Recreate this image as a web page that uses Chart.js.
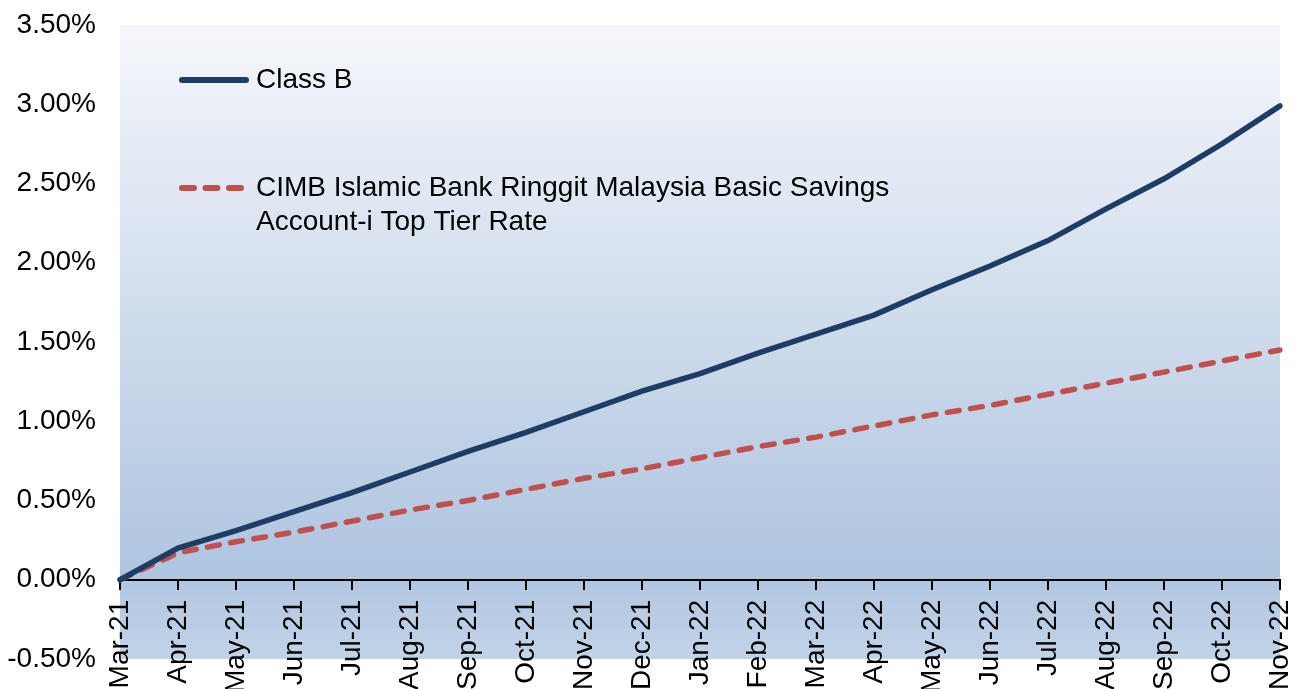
<!DOCTYPE html>
<html>
<head>
<meta charset="utf-8">
<script src="https://cdn.jsdelivr.net/npm/chart.js@4"></script>
<style>
  html, body { margin: 0; padding: 0; background: #fff; }
  #wrap { width: 1312px; height: 689px; }
</style>
</head>
<body>
<div id="wrap"><canvas id="chart" width="1312" height="689"></canvas></div>
<script>
const months = ['Mar-21','Apr-21','May-21','Jun-21','Jul-21','Aug-21','Sep-21','Oct-21','Nov-21','Dec-21',
  'Jan-22','Feb-22','Mar-22','Apr-22','May-22','Jun-22','Jul-22','Aug-22','Sep-22','Oct-22','Nov-22']
const classB = [0, 0.20, 0.31, 0.43, 0.55, 0.68, 0.81, 0.93, 1.06, 1.19,
  1.30, 1.43, 1.55, 1.67, 1.83, 1.98, 2.14, 2.34, 2.53, 2.75, 2.99]
const cimbRate = [0, 0.17, 0.24, 0.30, 0.37, 0.44, 0.50, 0.57, 0.64, 0.70,
  0.77, 0.84, 0.90, 0.97, 1.04, 1.10, 1.17, 1.24, 1.31, 1.38, 1.45]
const legendLabels = [['Class B'], ['CIMB Islamic Bank Ringgit Malaysia Basic Savings', 'Account-i Top Tier Rate']]

const FONT = 'Liberation Sans, Arial, sans-serif'
const navy = '#1f3c64'
const red = '#c0504d'

// fond dégradé de la zone du graphique
const bgPlugin = {
  id: 'bg',
  beforeDraw(chart) {
    const {ctx, chartArea: a} = chart
    const g = ctx.createLinearGradient(0, a.top, 0, a.bottom)
    g.addColorStop(0, '#f5f7fb')
    g.addColorStop(0.86, '#afc5e0')
    g.addColorStop(1, '#c2d3e8')
    ctx.save()
    ctx.fillStyle = g
    ctx.fillRect(a.left, a.top, a.right - a.left, a.bottom - a.top)
    ctx.restore()
  }
}

// légende dessinée dans la zone du graphique
const legendPlugin = {
  id: 'inlineLegend',
  afterDraw(chart) {
    const {ctx} = chart
    const rows = [{y: 80}, {y: 188}]
    ctx.save()
    ctx.font = '28px ' + FONT
    ctx.fillStyle = '#000'
    ctx.textBaseline = 'middle'
    rows.forEach((r, i) => {
      const ds = chart.data.datasets[i]
      ctx.strokeStyle = ds.borderColor
      ctx.lineWidth = 6
      ctx.lineCap = 'round'
      ctx.setLineDash(ds.borderDash || [])
      ctx.beginPath()
      ctx.moveTo(182, r.y)
      ctx.lineTo(246, r.y)
      ctx.stroke()
      ctx.setLineDash([])
      legendLabels[i].forEach((t, j) => ctx.fillText(t, 256, r.y + j * 34))
    })
    ctx.restore()
  }
}

new Chart(document.getElementById('chart'), {
  type: 'line',
  data: {
    labels: months,
    datasets: [
      { label: 'Class B', data: classB, borderColor: navy, borderWidth: 5.5, pointRadius: 0, tension: 0, borderCapStyle: 'round' },
      { label: 'CIMB', data: cimbRate, borderColor: red, borderWidth: 5.5, borderDash: [12, 11.5], pointRadius: 0, tension: 0, borderCapStyle: 'round' }
    ]
  },
  options: {
    responsive: false,
    animation: false,
    layout: { padding: 0 },
    plugins: { legend: { display: false }, tooltip: { enabled: false } },
    scales: {
      x: {
        position: { y: 0 },
        offset: false,
        afterFit: s => { s.paddingRight = 32; s.paddingLeft = 0 },
        grid: { drawOnChartArea: false, drawTicks: true, tickLength: 9, color: '#000', lineWidth: 2 },
        border: { display: true, color: '#000', width: 2 },
        ticks: { autoSkip: false, minRotation: 90, maxRotation: 90, padding: 11, color: '#000', font: { family: FONT, size: 28 } }
      },
      y: {
        min: -0.5, max: 3.5,
        afterFit: s => { s.width = 120; s.paddingTop = 25; s.paddingBottom = 30 },
        grid: { display: false },
        border: { display: false },
        ticks: { stepSize: 0.5, padding: 16, color: '#000', font: { family: FONT, size: 28 },
          callback: v => v.toFixed(2) + '%' }
      }
    }
  },
  plugins: [bgPlugin, legendPlugin]
})
</script>
</body>
</html>
